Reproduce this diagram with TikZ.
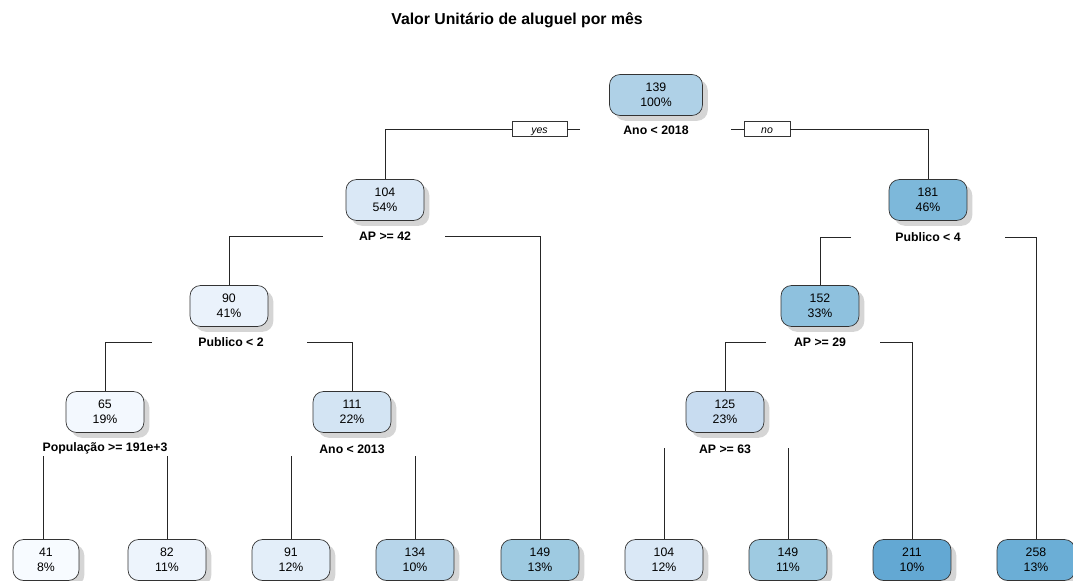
\documentclass[tikz,border=0pt]{standalone}
\usepackage{fontspec}
\setmainfont{Liberation Sans}
\usepackage{xcolor}
\usepackage{tikz}
\usetikzlibrary{shadows}

\definecolor{c41}{HTML}{F7FBFF}
\definecolor{c65}{HTML}{F3F8FE}
\definecolor{c82}{HTML}{EDF4FC}
\definecolor{c90}{HTML}{EAF2FB}
\definecolor{c91}{HTML}{E3EEF9}
\definecolor{c104}{HTML}{DAE8F6}
\definecolor{c111}{HTML}{D3E4F3}
\definecolor{c125}{HTML}{C8DCF0}
\definecolor{c134}{HTML}{B7D5EA}
\definecolor{c139}{HTML}{AFD1E7}
\definecolor{c149}{HTML}{9ECAE1}
\definecolor{c152}{HTML}{8EC1DE}
\definecolor{c181}{HTML}{7DB8DA}
\definecolor{c211}{HTML}{63A8D3}
\definecolor{c258}{HTML}{6BAED6}

\begin{document}
\begin{tikzpicture}[
    x=0.02cm, y=-0.02cm,
    treenode/.style={draw=black!80, rounded corners=6pt, minimum width=1.56cm,
                     minimum height=0.82cm, inner sep=1pt, align=center,
                     font=\fontsize{7}{8.5}\selectfont,
                     drop shadow={shadow xshift=3pt, shadow yshift=-3pt,
                                  fill=gray!60, opacity=0.55}},
    splitlbl/.style={font=\fontsize{7}{8}\selectfont\bfseries},
    yesno/.style={draw=black!80, inner sep=0pt, minimum height=0.3cm,
                  text height=1ex, text depth=0pt,
                  font=\fontsize{6}{7}\selectfont\itshape},
    branch/.style={draw=black!85, line width=0.5pt},
]
\useasboundingbox (0,0) rectangle (1073,581);

% Title
\node[font=\fontsize{9}{10}\selectfont\bfseries] (title) at (517,20)
    {Valor Unitário de aluguel por mês};

% ---------------------------------------------------------------------------
%  Inner nodes
% ---------------------------------------------------------------------------
\node[treenode, fill=c139, minimum width=1.86cm] (n139) at (656,95) {139\\100\%};
\node[treenode, fill=c104] (n104) at (385,200) {104\\54\%};
\node[treenode, fill=c181] (n181) at (928,200) {181\\46\%};
\node[treenode, fill=c90]  (n90)  at (229,306) {90\\41\%};
\node[treenode, fill=c152] (n152) at (820,306) {152\\33\%};
\node[treenode, fill=c65]  (n65)  at (105,412) {65\\19\%};
\node[treenode, fill=c111] (n111) at (352,412) {111\\22\%};
\node[treenode, fill=c125] (n125) at (725,412) {125\\23\%};

% ---------------------------------------------------------------------------
%  Leaves
% ---------------------------------------------------------------------------
\node[treenode, fill=c41, minimum width=1.32cm] (l41) at (46,560) {41\\8\%};
\node[treenode, fill=c82]  (l82)  at (167,560)  {82\\11\%};
\node[treenode, fill=c91]  (l91)  at (291,560)  {91\\12\%};
\node[treenode, fill=c134] (l134) at (415,560)  {134\\10\%};
\node[treenode, fill=c149] (l149a) at (540,560) {149\\13\%};
\node[treenode, fill=c104] (l104) at (664,560)  {104\\12\%};
\node[treenode, fill=c149] (l149b) at (788,560) {149\\11\%};
\node[treenode, fill=c211] (l211) at (912,560)  {211\\10\%};
\node[treenode, fill=c258] (l258) at (1036,560) {258\\13\%};

% ---------------------------------------------------------------------------
%  Split labels
% ---------------------------------------------------------------------------
\node[splitlbl] (s1) at (656,130) {Ano < 2018};
\node[splitlbl] (s2) at (385,236) {AP >= 42};
\node[splitlbl] (s3) at (928,237) {Publico < 4};
\node[splitlbl] (s4) at (231,342) {Publico < 2};
\node[splitlbl] (s5) at (820,342) {AP >= 29};
\node[splitlbl] (s6) at (105,448) {População >= 191e+3};
\node[splitlbl] (s7) at (352,449) {Ano < 2013};
\node[splitlbl] (s8) at (725,449) {AP >= 63};

% yes / no tags on the first split
\node[yesno, minimum width=1.1cm]  (yes) at (539.5,129) {yes};
\node[yesno, minimum width=0.92cm] (no)  at (767,129)   {no};

% ---------------------------------------------------------------------------
%  Branches
% ---------------------------------------------------------------------------
\coordinate (a1L) at (580,129);
\coordinate (a1R) at (731,129);
\draw[branch] (a1L) -- (yes.east);
\draw[branch] (yes.west) -| (n104.north);
\draw[branch] (a1R) -- (no.west);
\draw[branch] (no.east) -| (n181.north);

\coordinate (a2L) at (323,236);
\coordinate (a2R) at (445,236);
\draw[branch] (a2L) -| (n90.north);
\draw[branch] (a2R) -| (l149a.north);

\coordinate (a3L) at (851,237);
\coordinate (a3R) at (1005,237);
\draw[branch] (a3L) -| (n152.north);
\draw[branch] (a3R) -| (l258.north);

\coordinate (a4L) at (152,342);
\coordinate (a4R) at (307,342);
\draw[branch] (a4L) -| (n65.north);
\draw[branch] (a4R) -| (n111.north);

\coordinate (a5L) at (766,342);
\coordinate (a5R) at (880,342);
\draw[branch] (a5L) -| (n125.north);
\draw[branch] (a5R) -| (l211.north);

\coordinate (a6L) at (43,456);
\coordinate (a6R) at (167,456);
\draw[branch] (a6L) -- (a6L |- l41.north);
\draw[branch] (a6R) -- (l82.north);

\coordinate (a7L) at (291,456);
\coordinate (a7R) at (415,456);
\draw[branch] (a7L) -- (l91.north);
\draw[branch] (a7R) -- (l134.north);

\coordinate (a8L) at (664,448);
\coordinate (a8R) at (788,448);
\draw[branch] (a8L) -- (l104.north);
\draw[branch] (a8R) -- (l149b.north);

\end{tikzpicture}
\end{document}
